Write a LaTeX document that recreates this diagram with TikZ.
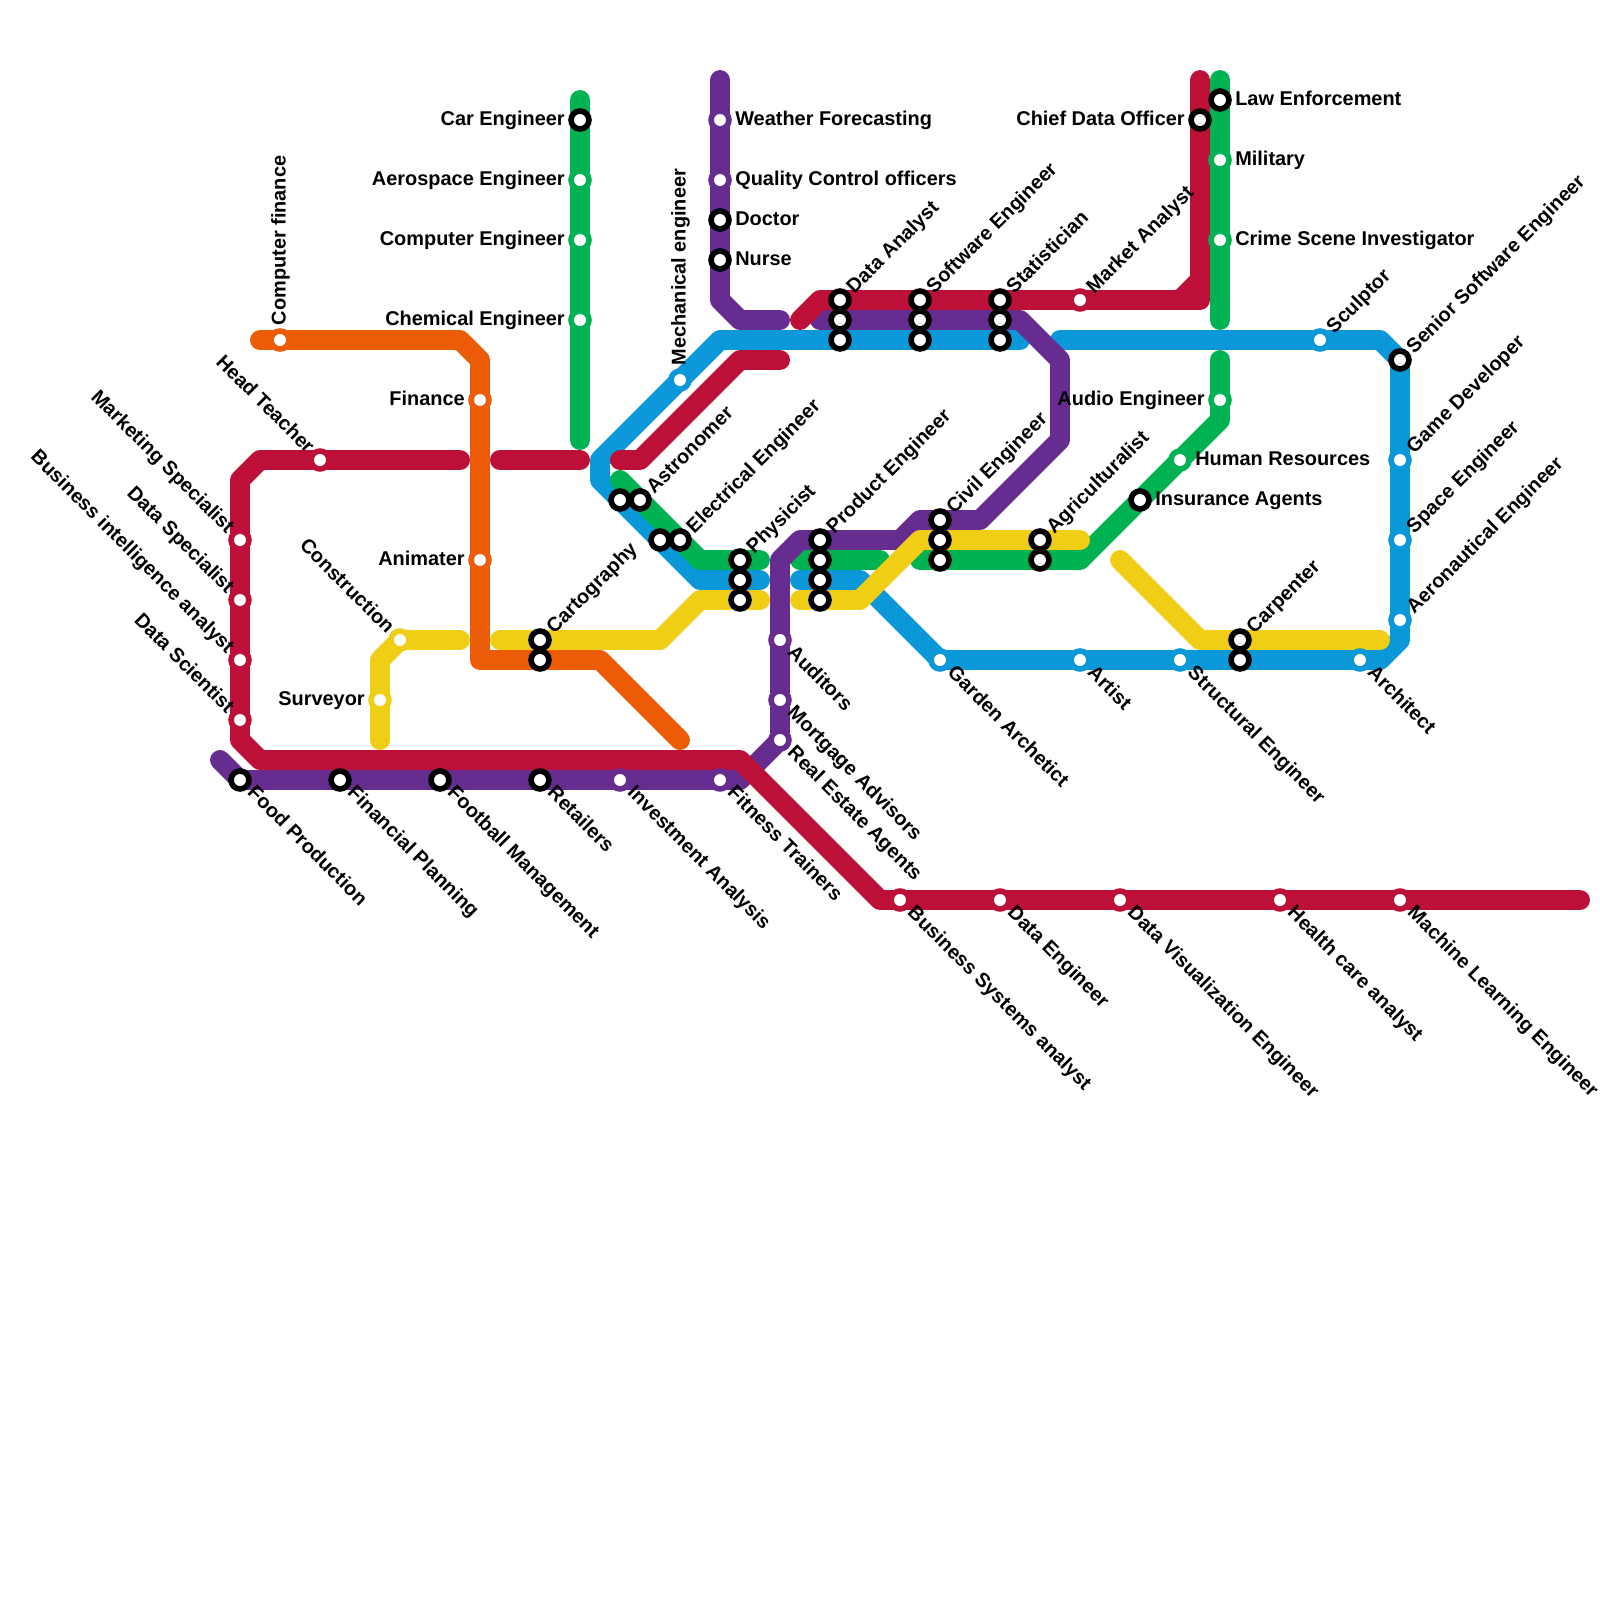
\documentclass[tikz,border=0pt]{standalone}
\usepackage{fontspec}
\setmainfont{Liberation Sans}[Ligatures=NoCommon]
\usetikzlibrary{positioning}
\definecolor{mred}{HTML}{BD1038}
\definecolor{morange}{HTML}{EC5B05}
\definecolor{mgreen}{HTML}{00B251}
\definecolor{mblue}{HTML}{0A98D8}
\definecolor{mpurple}{HTML}{662C90}
\definecolor{myellow}{HTML}{F0CE15}

\begin{document}
\begin{tikzpicture}[
	x=0.2cm, y=-0.2cm,
	font=\fontsize{5.67}{7}\selectfont\bfseries,
	l/.style = {line width=5.67pt, line cap=round, line join=round},
	lr/.style = {l, draw=mred},
	lo/.style = {l, draw=morange},
	lg/.style = {l, draw=mgreen},
	lb/.style = {l, draw=mblue},
	lp/.style = {l, draw=mpurple},
	ly/.style = {l, draw=myellow},
	st/.style = {circle, fill=white, line width=1.6pt, minimum size=5.1pt, inner sep=0pt},
	sr/.style = {st, draw=mred},
	so/.style = {st, draw=morange},
	sg/.style = {st, draw=mgreen},
	sb/.style = {st, draw=mblue},
	sp/.style = {st, draw=mpurple},
	sy/.style = {st, draw=myellow},
	sk/.style = {st, draw=black},
	t/.style = {inner sep=0pt, text height=1.45ex, text depth=0.35ex},
	te/.style = {t, anchor=west, xshift=0.8pt, yshift=1.25pt},
	tw/.style = {t, anchor=east, xshift=-0.8pt, yshift=1.25pt},
	tn/.style = {t, anchor=west, rotate=90, xshift=0.7pt, yshift=1.3pt},
	tne/.style = {t, anchor=west, rotate=45, xshift=0.5pt, yshift=1.15pt},
	tse/.style = {t, anchor=west, rotate=-45, xshift=0.6pt, yshift=1.45pt},
	tnw/.style = {t, anchor=east, rotate=-45, xshift=-0.3pt, yshift=1.3pt}
	]
	\useasboundingbox (0, 0) rectangle (80, 80);
	
	% === === Points === ===
	\coordinate	(o1)	at	(13, 17);
	\coordinate	(o2)	at	(23, 17);
	\coordinate	(o3)	at	(24, 18);
	\coordinate	(o4)	at	(24, 33);
	\coordinate	(o5)	at	(30, 33);
	\coordinate	(o6)	at	(34, 37);
	
	\coordinate	(b1)	at	(51, 17);
	\coordinate	(b2)	at	(36, 17);
	\coordinate	(b3)	at	(30, 23);
	\coordinate	(b4)	at	(30, 24);
	\coordinate	(b5)	at	(35, 29);
	\coordinate	(b6)	at	(38, 29);
	\coordinate	(b7)	at	(40, 29);
	\coordinate	(b8)	at	(43, 29);
	\coordinate	(b9)	at	(47, 33);
	\coordinate	(b10)	at	(69, 33);
	\coordinate	(b11)	at	(70, 32);
	\coordinate	(b12)	at	(70, 18);
	\coordinate	(b13)	at	(69, 17);
	\coordinate	(b14)	at	(53, 17);
	
	\coordinate	(g1)	at	(29, 5);
	\coordinate	(g2)	at	(29, 22);
	\coordinate	(g3)	at	(61, 4);
	\coordinate	(g4)	at	(61, 16);
	\coordinate	(g5)	at	(61, 18);
	\coordinate	(g6)	at	(61, 21);
	\coordinate	(g7)	at	(54, 28);
	\coordinate	(g8)	at	(46, 28);
	\coordinate	(g9)	at	(31, 24);
	\coordinate	(g10)	at	(35, 28);
	\coordinate	(g11)	at	(38, 28);
	\coordinate	(g12)	at	(40, 28);
	\coordinate	(g13)	at	(44, 28);
	
	\coordinate	(p1)	at	(36, 4);
	\coordinate	(p2)	at	(36, 15);
	\coordinate	(p3)	at	(37, 16);
	\coordinate	(p4)	at	(39, 16);
	\coordinate	(p5)	at	(41, 16);
	\coordinate	(p6)	at	(51, 16);
	\coordinate	(p7)	at	(53, 18);
	\coordinate	(p8)	at	(53, 22);
	\coordinate	(p9)	at	(49, 26);
	\coordinate	(p10)	at	(46, 26);
	\coordinate	(p11)	at	(45, 27);
	\coordinate	(p12)	at	(40, 27);
	\coordinate	(p13)	at	(39, 28);
	\coordinate	(p14)	at	(39, 37);
	\coordinate	(p15)	at	(37, 39);
	\coordinate	(p16)	at	(12, 39);
	\coordinate	(p17)	at	(11, 38);
	
	\coordinate	(y1)	at	(19, 37);
	\coordinate	(y2)	at	(19, 33);
	\coordinate	(y3)	at	(20, 32);
	\coordinate	(y4)	at	(23, 32);
	\coordinate	(y5)	at	(25, 32);
	\coordinate	(y6)	at	(33, 32);
	\coordinate	(y7)	at	(35, 30);
	\coordinate	(y8)	at	(38, 30);
	\coordinate	(y9)	at	(40, 30);
	\coordinate	(y10)	at	(43, 30);
	\coordinate	(y11)	at	(46, 27);
	\coordinate	(y12)	at	(54, 27);
	\coordinate	(y13)	at	(56, 28);
	\coordinate	(y14)	at	(60, 32);
	\coordinate	(y15)	at	(69, 32);
	
	\coordinate	(r1)	at	(23, 23);
	\coordinate	(r2)	at	(13, 23);
	\coordinate	(r3)	at	(12, 24);
	\coordinate	(r4)	at	(12, 37);
	\coordinate	(r5)	at	(13, 38);
	\coordinate	(r6)	at	(37, 38);
	\coordinate	(r7)	at	(44, 45);
	\coordinate	(r8)	at	(79, 45);
	\coordinate	(r9)	at	(25, 23);
	\coordinate	(r10)	at	(29, 23);
	\coordinate	(r11)	at	(31, 23);
	\coordinate	(r12)	at	(32, 23);
	\coordinate	(r13)	at	(37, 18);
	\coordinate	(r14)	at	(39, 18);
	\coordinate	(r15)	at	(40, 16);
	\coordinate	(r16)	at	(41, 15);
	\coordinate	(r17)	at	(59, 15);
	\coordinate	(r18)	at	(60, 15);
	\coordinate	(r19)	at	(60, 14);
	\coordinate	(r20)	at	(60, 4);
	
	% === === Lines === ===
	\draw[lo]	(o1) -- (o2) -- (o3) -- (o4) -- (o5) -- (o6);
	
	\draw[lb]	(b1) -- (b2) -- (b3) -- (b4) -- (b5) -- (b6);
	\draw[lb]	(b7) -- (b8) -- (b9) -- (b10) -- (b11) -- (b12) -- (b13) -- (b14);
	
	\draw[lg]	(g1) -- (g2);
	\draw[lg]	(g3) -- (g4);
	\draw[lg]	(g5) -- (g6) -- (g7) -- (g8);
	\draw[lg]	(g9) -- (g10) -- (g11);
	\draw[lg]	(g12) -- (g13);
	
	\draw[lp]	(p1) -- (p2) -- (p3) -- (p4);
	\draw[lp]	(p5) -- (p6) -- (p7) -- (p8) -- (p9) -- (p10) -- (p11) -- (p12) -- (p13) -- (p14) -- (p15) -- (p16) -- (p17);
	
	\draw[ly]	(y1) -- (y2) -- (y3) -- (y4);
	\draw[ly]	(y5) -- (y6) -- (y7) -- (y8);
	\draw[ly]	(y9) -- (y10) -- (y11) -- (y12);
	\draw[ly]	(y13) -- (y14) -- (y15);
	
	\draw[lr]	(r1) -- (r2) -- (r3) -- (r4) -- (r5) -- (r6) -- (r7) -- (r8);
	\draw[lr]	(r9) -- (r10);
	\draw[lr]	(r11) -- (r12) -- (r13) -- (r14);
	\draw[lr]	(r15) -- (r16) -- (r17) -- (r19) -- (r20);
	\draw[lr]	(r17) -- (r18) -- (r19);
	
	% === === Stations === ===
	\node[sk]	(car)	at	(29, 6)	{};
	\node[sg]	(aero)	at	(29, 9)	{};
	\node[sg]	(comp)	at	(29, 12)	{};
	\node[sg]	(chem)	at	(29, 16)	{};
	\node[sp]	(weather)	at	(36, 6)	{};
	\node[sp]	(quality)	at	(36, 9)	{};
	\node[sk]	(doctor)	at	(36, 11)	{};
	\node[sk]	(nurse)	at	(36, 13)	{};
	
	\node[so]	(cfin)	at	(14, 17)	{};
	\node[sr]	(head)	at	(16, 23)	{};
	\node[sr]	(mark)	at	(12, 27)	{};
	\node[sr]	(dspec)	at	(12, 30)	{};
	\node[sr]	(bint)	at	(12, 33)	{};
	\node[sr]	(dsci)	at	(12, 36)	{};
	\node[so]	(fin)	at	(24, 20)	{};
	\node[so]	(anim)	at	(24, 28)	{};
	\node[sy]	(cons)	at	(20, 32)	{};
	\node[sy]	(surv)	at	(19, 35)	{};
	
	\node[sk]	(cart2)	at	(27, 33)	{};
	\node[sk]	(cart)	at	(27, 32)	{};
	\node[sk]	(astr2)	at	(31, 25)	{};
	\node[sk]	(astr)	at	(32, 25)	{};
	\node[sk]	(elec2)	at	(33, 27)	{};
	\node[sk]	(elec)	at	(34, 27)	{};
	\node[sb]	(mech)	at	(34, 19)	{};
	
	\node[sk]	(phys3)	at	(37, 30)	{};
	\node[sk]	(phys2)	at	(37, 29)	{};
	\node[sk]	(phys)	at	(37, 28)	{};
	\node[sk]	(prod4)	at	(41, 30)	{};
	\node[sk]	(prod3)	at	(41, 29)	{};
	\node[sk]	(prod2)	at	(41, 28)	{};
	\node[sk]	(prod)	at	(41, 27)	{};
	\node[sk]	(civil3)	at	(47, 28)	{};
	\node[sk]	(civil2)	at	(47, 27)	{};
	\node[sk]	(civil)	at	(47, 26)	{};
	\node[sk]	(agri2)	at	(52, 28)	{};
	\node[sk]	(agri)	at	(52, 27)	{};
	
	\node[sk]	(dana3)	at	(42, 17)	{};
	\node[sk]	(dana2)	at	(42, 16)	{};
	\node[sk]	(dana)	at	(42, 15)	{};
	\node[sk]	(soft3)	at	(46, 17)	{};
	\node[sk]	(soft2)	at	(46, 16)	{};
	\node[sk]	(soft)	at	(46, 15)	{};
	\node[sk]	(stat3)	at	(50, 17)	{};
	\node[sk]	(stat2)	at	(50, 16)	{};
	\node[sk]	(stat)	at	(50, 15)	{};
	\node[sr]	(mana)	at	(54, 15)	{};
	
	\node[sk]	(chief)	at	(60, 6)	{};
	\node[sk]	(law)	at	(61, 5)	{};
	\node[sg]	(mil)	at	(61, 8)	{};
	\node[sg]	(crime)	at	(61, 12)	{};
	\node[sg]	(audio)	at	(61, 20)	{};
	\node[sg]	(hres)	at	(59, 23)	{};
	\node[sk]	(insu)	at	(57, 25)	{};
	
	\node[sb]	(sculp)	at	(66, 17)	{};
	\node[sk]	(senior)	at	(70, 18)	{};
	\node[sb]	(game)	at	(70, 23)	{};
	\node[sb]	(space)	at	(70, 27)	{};
	\node[sb]	(aero2)	at	(70, 31)	{};
	\node[sk]	(carp2)	at	(62, 33)	{};
	\node[sk]	(carp)	at	(62, 32)	{};
	\node[sb]	(arch)	at	(68, 33)	{};
	\node[sb]	(struc)	at	(59, 33)	{};
	\node[sb]	(artist)	at	(54, 33)	{};
	\node[sb]	(garden)	at	(47, 33)	{};
	
	\node[sp]	(audit)	at	(39, 32)	{};
	\node[sp]	(mort)	at	(39, 35)	{};
	\node[sp]	(real)	at	(39, 37)	{};
	\node[sk]	(food)	at	(12, 39)	{};
	\node[sk]	(fplan)	at	(17, 39)	{};
	\node[sk]	(foot)	at	(22, 39)	{};
	\node[sk]	(retail)	at	(27, 39)	{};
	\node[sp]	(invest)	at	(31, 39)	{};
	\node[sp]	(fit)	at	(36, 39)	{};
	
	\node[sr]	(bsys)	at	(45, 45)	{};
	\node[sr]	(deng)	at	(50, 45)	{};
	\node[sr]	(dvis)	at	(56, 45)	{};
	\node[sr]	(hcare)	at	(64, 45)	{};
	\node[sr]	(mlearn)	at	(70, 45)	{};
	
	% === === Labels === ===
	\node[tw]	(car-t)	at	(car.west)	{Car Engineer};
	\node[tw]	(aero-t)	at	(aero.west)	{Aerospace Engineer};
	\node[tw]	(comp-t)	at	(comp.west)	{Computer Engineer};
	\node[tw]	(chem-t)	at	(chem.west)	{Chemical Engineer};
	\node[te]	(weather-t)	at	(weather.east)	{Weather Forecasting};
	\node[te]	(quality-t)	at	(quality.east)	{Quality Control officers};
	\node[te]	(doctor-t)	at	(doctor.east)	{Doctor};
	\node[te]	(nurse-t)	at	(nurse.east)	{Nurse};
	
	\node[tn]	(cfin-t)	at	(cfin.north)	{Computer finance};
	\node[tnw]	(head-t)	at	(head.135)	{Head Teacher};
	\node[tnw]	(mark-t)	at	(mark.135)	{Marketing Specialist};
	\node[tnw]	(dspec-t)	at	(dspec.135)	{Data Specialist};
	\node[tnw]	(bint-t)	at	(bint.135)	{Business intelligence analyst};
	\node[tnw]	(dsci-t)	at	(dsci.135)	{Data Scientist};
	\node[tw]	(fin-t)	at	(fin.west)	{Finance};
	\node[tw]	(anim-t)	at	(anim.west)	{Animater};
	\node[tnw]	(cons-t)	at	(cons.135)	{Construction};
	\node[tw]	(surv-t)	at	(surv.west)	{Surveyor};
	
	\node[tne]	(cart-t)	at	(cart.45)	{Cartography};
	\node[tne]	(astr-t)	at	(astr.45)	{Astronomer};
	\node[tne]	(elec-t)	at	(elec.45)	{Electrical Engineer};
	\node[tn]	(mech-t)	at	(mech.north)	{Mechanical engineer};
	\node[tne]	(phys-t)	at	(phys.45)	{Physicist};
	\node[tne]	(prod-t)	at	(prod.45)	{Product Engineer};
	\node[tne]	(civil-t)	at	(civil.45)	{Civil Engineer};
	\node[tne]	(agri-t)	at	(agri.45)	{Agriculturalist};
	\node[tne]	(dana-t)	at	(dana.45)	{Data Analyst};
	\node[tne]	(soft-t)	at	(soft.45)	{Software Engineer};
	\node[tne]	(stat-t)	at	(stat.45)	{Statistician};
	\node[tne]	(mana-t)	at	(mana.45)	{Market Analyst};
	
	\node[tw]	(chief-t)	at	(chief.west)	{Chief Data Officer};
	\node[te]	(law-t)	at	(law.east)	{Law Enforcement};
	\node[te]	(mil-t)	at	(mil.east)	{Military};
	\node[te]	(crime-t)	at	(crime.east)	{Crime Scene Investigator};
	\node[tw]	(audio-t)	at	(audio.west)	{Audio Engineer};
	\node[te]	(hres-t)	at	(hres.east)	{Human Resources};
	\node[te]	(insu-t)	at	(insu.east)	{Insurance Agents};
	
	\node[tne]	(sculp-t)	at	(sculp.45)	{Sculptor};
	\node[tne]	(senior-t)	at	(senior.45)	{Senior Software Engineer};
	\node[tne]	(game-t)	at	(game.45)	{Game Developer};
	\node[tne]	(space-t)	at	(space.45)	{Space Engineer};
	\node[tne]	(aero2-t)	at	(aero2.45)	{Aeronautical Engineer};
	\node[tne]	(carp-t)	at	(carp.45)	{Carpenter};
	
	\node[tse]	(arch-t)	at	(arch.-45)	{Architect};
	\node[tse]	(struc-t)	at	(struc.-45)	{Structural Engineer};
	\node[tse]	(artist-t)	at	(artist.-45)	{Artist};
	\node[tse]	(garden-t)	at	(garden.-45)	{Garden Archetict};
	\node[tse]	(audit-t)	at	(audit.-45)	{Auditors};
	\node[tse]	(mort-t)	at	(mort.-45)	{Mortgage Advisors};
	\node[tse]	(real-t)	at	(real.-45)	{Real Estate Agents};
	\node[tse]	(food-t)	at	(food.-45)	{Food Production};
	\node[tse]	(fplan-t)	at	(fplan.-45)	{Financial Planning};
	\node[tse]	(foot-t)	at	(foot.-45)	{Football Management};
	\node[tse]	(retail-t)	at	(retail.-45)	{Retailers};
	\node[tse]	(invest-t)	at	(invest.-45)	{Investment Analysis};
	\node[tse]	(fit-t)	at	(fit.-45)	{Fitness Trainers};
	\node[tse]	(bsys-t)	at	(bsys.-45)	{Business Systems analyst};
	\node[tse]	(deng-t)	at	(deng.-45)	{Data Engineer};
	\node[tse]	(dvis-t)	at	(dvis.-45)	{Data Visualization Engineer};
	\node[tse]	(hcare-t)	at	(hcare.-45)	{Health care analyst};
	\node[tse]	(mlearn-t)	at	(mlearn.-45)	{Machine Learning Engineer};
	
\end{tikzpicture}
\end{document}
